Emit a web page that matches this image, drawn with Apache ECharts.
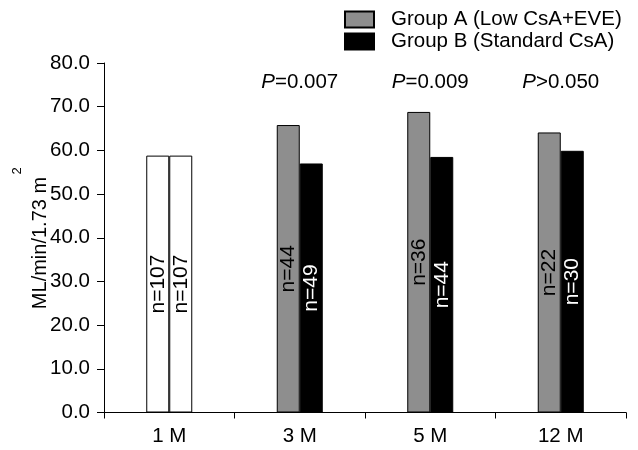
<!DOCTYPE html>
<html>
<head>
<meta charset="utf-8">
<script src="https://cdn.jsdelivr.net/npm/echarts@6/dist/echarts.min.js"></script>
<style>html,body{margin:0;padding:0;background:#fff;}#c{width:638px;height:450px;}</style>
</head>
<body>
<div id="c"></div>
<script>
var categories = ['1 M', '3 M', '5 M', '12 M'];
var groupA = [58.8, 65.8, 68.8, 64.1];
var groupB = [58.8, 57.0, 58.5, 59.9];
var nA = ['n=107', 'n=44', 'n=36', 'n=22'];
var nB = ['n=107', 'n=49', 'n=44', 'n=30'];
var pOp = ['', '=', '=', '>'];
var pVal = ['', '0.007', '0.009', '0.050'];
var pY = [null, 75.6, 75.6, 75.6];
var yTicks = [0, 10, 20, 30, 40, 50, 60, 70, 80];
var yTitle = 'ML/min/1.73 m';
var yTitleSup = '2';

var FONT = '"Liberation Sans", Arial, sans-serif';
var FS = 20.5;
var chart = echarts.init(document.getElementById('c'), null, {renderer: 'canvas'});

function barData(vals, labels, firstWhite) {
  return vals.map(function (v, i) {
    var d = {value: v, label: {formatter: labels[i]}};
    if (i === 0 && firstWhite) {
      d.itemStyle = {color: '#ffffff', borderColor: '#000', borderWidth: 1};
      d.label.color = '#000';
    }
    return d;
  });
}

var option = {
  animation: false,
  backgroundColor: '#fff',
  textStyle: {fontFamily: FONT},
  grid: {left: 104, right: 12, top: 63, bottom: 37.5, containLabel: false},
  graphic: [
    {type: 'text', x: 40, y: 243, rotation: Math.PI / 2, silent: true,
      style: {text: yTitle, font: '20px ' + FONT, fill: '#000', align: 'center', verticalAlign: 'middle'}},
    {type: 'text', x: 17, y: 171, rotation: Math.PI / 2, silent: true,
      style: {text: yTitleSup, font: '13px ' + FONT, fill: '#000', align: 'center', verticalAlign: 'middle'}}
  ],
  legend: {
    orient: 'vertical',
    left: 339, top: 4,
    itemWidth: 29, itemHeight: 16, itemGap: 1,
    icon: 'rect',
    data: ['Group A (Low CsA+EVE)', 'Group B (Standard CsA)'],
    textStyle: {fontFamily: FONT, fontSize: FS, color: '#000', padding: [2, 0, 0, 12], lineHeight: 14}
  },
  xAxis: {
    type: 'category',
    data: categories,
    boundaryGap: true,
    axisLine: {lineStyle: {color: '#000', width: 1}},
    axisTick: {show: true, length: 6, lineStyle: {color: '#000'}},
    axisLabel: {fontFamily: FONT, fontSize: FS, color: '#000', margin: 13},
    splitLine: {show: false}
  },
  yAxis: {
    type: 'value',
    min: 0, max: 80, interval: 10,
    axisLine: {show: true, lineStyle: {color: '#000', width: 1}},
    axisTick: {show: true, length: 7, lineStyle: {color: '#000'}},
    axisLabel: {fontFamily: FONT, fontSize: FS, color: '#000', margin: 14,
      formatter: function (v) { return yTicks.indexOf(v) >= 0 ? v.toFixed(1) : ''; }},
    splitLine: {show: false}
  },
  series: [
    {
      name: 'Group A (Low CsA+EVE)',
      type: 'bar',
      barWidth: 23,
      barGap: '0%',
      itemStyle: {color: '#8e8e8e', borderColor: '#000', borderWidth: 1},
      label: {show: true, position: 'inside', rotate: 90, fontFamily: FONT, fontSize: 21, color: '#000'},
      data: barData(groupA, nA, true)
    },
    {
      name: 'Group B (Standard CsA)',
      type: 'bar',
      barWidth: 23,
      barGap: '0%',
      itemStyle: {color: '#000000', borderColor: '#000', borderWidth: 1},
      label: {show: true, position: 'inside', rotate: 90, fontFamily: FONT, fontSize: 21, color: '#fff'},
      data: barData(groupB, nB, true)
    },
    {
      name: 'p',
      type: 'scatter',
      symbolSize: 0,
      silent: true,
      itemStyle: {opacity: 1},
      label: {
        show: true, position: 'inside', opacity: 1,
        formatter: function (p) { var i = p.dataIndex; return '{i|P}' + pOp[i] + pVal[i]; },
        fontFamily: FONT, fontSize: FS, color: '#000',
        rich: {i: {fontFamily: FONT, fontSize: FS, fontStyle: 'italic', color: '#000'}}
      },
      data: pY
    }
  ]
};
chart.setOption(option);
</script>
</body>
</html>
